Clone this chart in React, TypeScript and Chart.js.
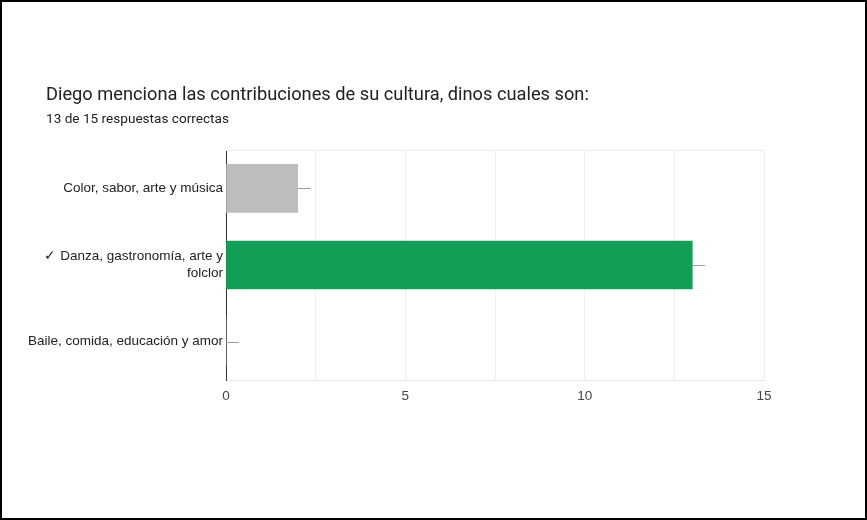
import React, { useEffect, useRef } from "react";
import { Chart, registerables } from "chart.js";

Chart.register(...registerables);

const TITLE = "Diego menciona las contribuciones de su cultura, dinos cuales son:";
const SUBTITLE = "13 de 15 respuestas correctas";
const categories: (string | string[])[] = [
  "Color, sabor, arte y música",
  ["✓ Danza, gastronomía, arte y", "folclor"],
  "Baile, comida, educación y amor",
];
const values = [2, 13, 0];
const barColors = ["#bdbdbd", "#129e57", "#bdbdbd"];
const xMin = 0;
const xMax = 15;
const xStep = 2.5;

const markerPlugin = {
  id: "markers",
  afterDatasetsDraw(chart: any) {
    const ctx = chart.ctx;
    const meta = chart.getDatasetMeta(0);
    ctx.save();
    ctx.strokeStyle = "#9e9e9e";
    ctx.lineWidth = 1;
    meta.data.forEach((el: any) => {
      const y = Math.round(el.y) + 0.5;
      ctx.beginPath();
      ctx.moveTo(el.x, y);
      ctx.lineTo(el.x + 13, y);
      ctx.stroke();
    });
    ctx.restore();
  },
};

const topLinePlugin = {
  id: "topLine",
  beforeDatasetsDraw(chart: any) {
    const { ctx, chartArea } = chart;
    ctx.save();
    ctx.strokeStyle = "#ebebeb";
    ctx.lineWidth = 1;
    ctx.beginPath();
    ctx.moveTo(chartArea.left, chartArea.top + 0.5);
    ctx.lineTo(chartArea.right, chartArea.top + 0.5);
    ctx.stroke();
    ctx.restore();
  },
};

export default function App() {
  const canvasRef = useRef<HTMLCanvasElement | null>(null);

  useEffect(() => {
    document.body.style.margin = "0";
    const canvas = canvasRef.current;
    if (!canvas) return;
    const chart = new Chart(canvas, {
      type: "bar",
      data: {
        labels: categories,
        datasets: [
          {
            data: values,
            backgroundColor: barColors,
            borderWidth: 0,
            barThickness: 48,
          },
        ],
      },
      options: {
        indexAxis: "y",
        responsive: false,
        animation: false,
        maintainAspectRatio: false,
        layout: { padding: { top: 150, right: 103, left: 0, bottom: 0 } },
        plugins: {
          legend: { display: false },
          tooltip: { enabled: false },
          title: { display: false },
        },
        scales: {
          x: {
            min: xMin,
            max: xMax,
            afterFit(scale: any) {
              scale.height = 140;
            },
            ticks: {
              stepSize: xStep,
              padding: 8,
              color: "#444444",
              font: { family: "'Liberation Sans', Arial, sans-serif", size: 13.5 },
              maxRotation: 0,
              callback: (v: any) => (Number(v) % 5 === 0 ? String(v) : ""),
            },
            grid: { color: "#efefef", drawTicks: false },
            border: { color: "#e6e6e6" },
          },
          y: {
            afterFit(scale: any) {
              scale.width = 226;
            },
            ticks: {
              padding: 3,
              color: "#222222",
              font: { family: "'Liberation Sans', Arial, sans-serif", size: 13.5, lineHeight: 1.27 },
            },
            grid: { display: false, drawTicks: false },
            border: { color: "#333333", width: 1 },
          },
        },
      },
      plugins: [markerPlugin, topLinePlugin],
    });
    return () => chart.destroy();
  }, []);

  return (
    <div
      style={{
        position: "relative",
        width: 867,
        height: 520,
        boxSizing: "border-box",
        border: "2px solid #000",
        background: "#fff",
        overflow: "hidden",
      }}
    >
      <canvas
        ref={canvasRef}
        width={867}
        height={520}
        style={{ position: "absolute", left: -2, top: -2, width: 867, height: 520 }}
      />
      <div
        style={{
          position: "absolute",
          left: 44,
          top: 80,
          fontFamily: "Roboto, 'Noto Sans', sans-serif",
          fontSize: 18.25,
          color: "#202124",
          whiteSpace: "nowrap",
          lineHeight: "24px",
        }}
      >
        {TITLE}
      </div>
      <div
        style={{
          position: "absolute",
          left: 44,
          top: 106,
          fontFamily: "Roboto, 'Noto Sans', sans-serif",
          fontSize: 13.6,
          color: "#202124",
          whiteSpace: "nowrap",
          lineHeight: "20px",
        }}
      >
        {SUBTITLE}
      </div>
    </div>
  );
}
